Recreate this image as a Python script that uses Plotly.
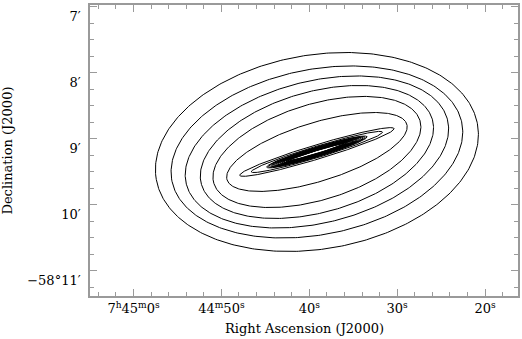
import numpy as np
import plotly.graph_objects as go

# source centre (J2000); RA kept as seconds after 7h44m
ra_centre_s = 39.13
dec_centre_deg = -58.15328

# contour ellipses, outermost first: semi-axes in arcsec, position angle in deg (N through E)
semi_major = [146.8, 133.2, 121.2, 108.1, 97.1, 84.8,
              72.7, 61.8, 47.3, 45.5, 43.6, 41.8, 40.0, 38.2, 36.4, 34.5, 32.7, 30.9, 29.1, 27.3, 25.5]
semi_minor = [88.2, 75.0, 64.5, 54.8, 43.5, 26.6,
              6.5, 5.1, 4.5, 4.2, 3.8, 3.5, 3.3, 3.0, 2.7, 2.5, 2.2, 1.9, 1.6, 1.45, 1.3]
pos_angle = [99.8, 101.6, 104.0, 105.9, 107.2, 107.4] + [107.0] * 15

ra_tickvals = [60, 50, 40, 30, 20]
ra_ticktext = ["7<sup>h</sup>45<sup>m</sup>0<sup>s</sup>", "44<sup>m</sup>50<sup>s</sup>",
               "40<sup>s</sup>", "30<sup>s</sup>", "20<sup>s</sup>"]
dec_arcmin = [7, 8, 9, 10, 11]
dec_ticktext = ["7′", "8′", "9′", "10′", "−58°11′"]

FONT = "DejaVu Serif"
FRAME = "#9a9a9a"

fig = go.Figure()
t = np.linspace(0, 2 * np.pi, 400)
cosd = np.cos(np.radians(dec_centre_deg))
for a, b, pa in zip(semi_major, semi_minor, pos_angle):
    p = np.radians(pa)
    east = a * np.cos(t) * np.sin(p) + b * np.sin(t) * np.cos(p)
    north = a * np.cos(t) * np.cos(p) - b * np.sin(t) * np.sin(p)
    fig.add_trace(go.Scatter(
        x=ra_centre_s + east / (15 * cosd), y=dec_centre_deg + north / 3600,
        mode="lines", line=dict(color="black", width=1), hoverinfo="skip", showlegend=False,
    ))

axis_common = dict(
    showgrid=False, zeroline=False, showline=True, mirror="ticks",
    linecolor=FRAME, linewidth=1.5, ticks="inside", ticklen=7, tickcolor=FRAME, tickwidth=1,
    tickfont=dict(family=FONT, size=13, color="black"),
)

fig.update_layout(
    width=522, height=339,
    margin=dict(l=90, r=2, t=5, b=43),
    paper_bgcolor="white", plot_bgcolor="white",
    xaxis=dict(
        **axis_common, range=[64.95, 16.25], tickvals=ra_tickvals, ticktext=ra_ticktext,
        minor=dict(dtick=2, tick0=0, ticks="inside", ticklen=4, tickcolor=FRAME),
    ),
    yaxis=dict(
        **axis_common, range=[-58 - 11.379 / 60, -58 - 6.97 / 60],
        tickvals=[-58 - m / 60 for m in dec_arcmin], ticktext=dec_ticktext,
        minor=dict(dtick=0.25 / 60, tick0=-58, ticks="inside", ticklen=4, tickcolor=FRAME),
        ticklabelposition="outside bottom", ticklabelstandoff=5,
    ),
    annotations=[
        dict(text="Right Ascension (J2000)", xref="paper", yref="paper", x=0.5, y=0,
             xanchor="center", yanchor="top", yshift=-23, showarrow=False,
             font=dict(family=FONT, size=13, color="black")),
        dict(text="Declination (J2000)", xref="paper", yref="paper", x=0, y=0.5,
             xanchor="center", yanchor="middle", xshift=-83, textangle=-90, showarrow=False,
             font=dict(family=FONT, size=13, color="black")),
    ],
)

fig.write_html("out.html", config={"displayModeBar": False},
               post_script="document.body.style.margin='0px';")
